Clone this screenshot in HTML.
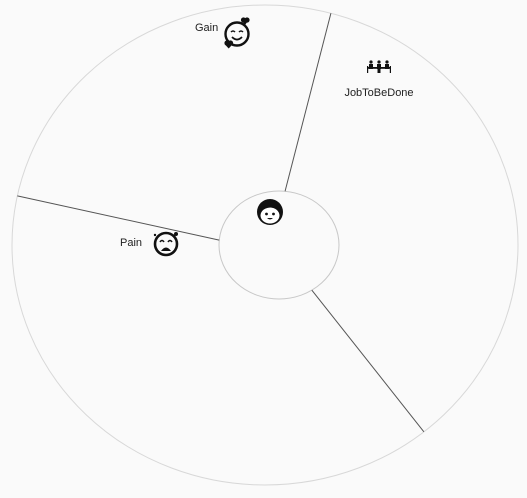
<!DOCTYPE html>
<html><head><meta charset="utf-8"><style>
html,body{margin:0;padding:0;background:#fafafa;}
svg{display:block;}
text{font-family:"Liberation Sans",sans-serif;font-size:11px;fill:#222;}
</style></head><body>
<svg id="c" width="527" height="498">
<rect width="527" height="498" fill="#fafafa"/>
<ellipse cx="265" cy="245" rx="253" ry="240" fill="none" stroke="#d8d8d8"/>
<ellipse cx="279" cy="245" rx="60" ry="54" fill="none" stroke="#c8c8c8"/>
<g id="lines"></g>
<!-- center face -->
<g transform="translate(270,212)">
<circle r="13" fill="#111"/><ellipse cx="0" cy="3.5" rx="9.5" ry="8" fill="#fff"/>
<path d="M-10 0 Q-3 -6 4 -4 Q8 -3 10 0 L10 -3 Q0 -10 -10 -3 z" fill="#111"/>
<circle cx="-3.5" cy="2" r="1.4" fill="#111"/><circle cx="3.5" cy="2" r="1.4" fill="#111"/>
<path d="M-3 6 Q0 9 3 6 z" fill="#111"/>
</g>
<!-- gain icon -->
<g transform="translate(237,34)">
<circle r="11.5" fill="none" stroke="#111" stroke-width="2.4"/>
<path d="M-6 -2 Q-4 -4 -2 -2 M2 -2 Q4 -4 6 -2" stroke="#111" stroke-width="1.5" fill="none"/>
<path d="M-5 3 Q0 8 5 3" stroke="#111" stroke-width="1.8" fill="none"/>
<path d="M5 -13 l3 -3 l3 3 l-3 4 z" fill="#111"/><circle cx="6.5" cy="-14" r="2.6" fill="#111"/><circle cx="10" cy="-14" r="2.6" fill="#111"/>
<circle cx="-10" cy="9" r="2.6" fill="#111"/><circle cx="-6.5" cy="9" r="2.6" fill="#111"/><path d="M-12.5 10 l4.2 4.5 l4.2 -4.5 z" fill="#111"/>
</g>
<text x="195" y="31">Gain</text>
<!-- job icon -->
<g transform="translate(379,68)" fill="#111">
<rect x="-11" y="-1" width="22" height="1.8"/>
<circle cx="-8" cy="-6" r="1.6"/><rect x="-10" y="-4" width="4" height="5"/><rect x="-12" y="-2" width="1.2" height="7"/>
<circle cx="0" cy="-6" r="1.6"/><rect x="-2" y="-4" width="4" height="5"/><rect x="-1.5" y="1" width="3" height="4"/>
<circle cx="8" cy="-6" r="1.6"/><rect x="6" y="-4" width="4" height="5"/><rect x="10.8" y="-2" width="1.2" height="7"/>
</g>
<text x="379" y="96" text-anchor="middle">JobToBeDone</text>
<!-- pain icon -->
<g transform="translate(166,244)">
<circle r="11" fill="none" stroke="#111" stroke-width="2.6"/>
<path d="M-6 -2 Q-4 -5 -2 -2 M2 -2 Q4 -5 6 -2" stroke="#111" stroke-width="1.5" fill="none"/>
<path d="M-5 7 Q0 0 5 7 z" fill="#111"/>
<circle cx="10" cy="-10" r="2" fill="#111"/><circle cx="-11" cy="-9" r="1.2" fill="#111"/>
</g>
<text x="120" y="246">Pain</text>
</svg>
<script>
const sections=["JobToBeDone","Gain","Pain"];
const innerAngles=[-84.2,-174.8,56.8];
const outerAngles=[-74.9,-168.2,51.1];
const cx=279,cy=245,irx=60,iry=54,ocx=265,ocy=245,orx=253,ory=240;
function innerPt(a){const r=a*Math.PI/180;return [cx+irx*Math.cos(r),cy+iry*Math.sin(r)];}
function outerPt(a){const r=a*Math.PI/180;return [ocx+orx*Math.cos(r),ocy+ory*Math.sin(r)];}
const g=document.getElementById('lines');
innerAngles.forEach((a,i)=>{
 const p=innerPt(a),q=outerPt(outerAngles[i]);
 const l=document.createElementNS('http://www.w3.org/2000/svg','line');
 l.setAttribute('x1',p[0]);l.setAttribute('y1',p[1]);l.setAttribute('x2',q[0]);l.setAttribute('y2',q[1]);
 l.setAttribute('stroke','#555');l.setAttribute('stroke-width','1');
 
 
 g.appendChild(l);
});
</script>
</body></html>
